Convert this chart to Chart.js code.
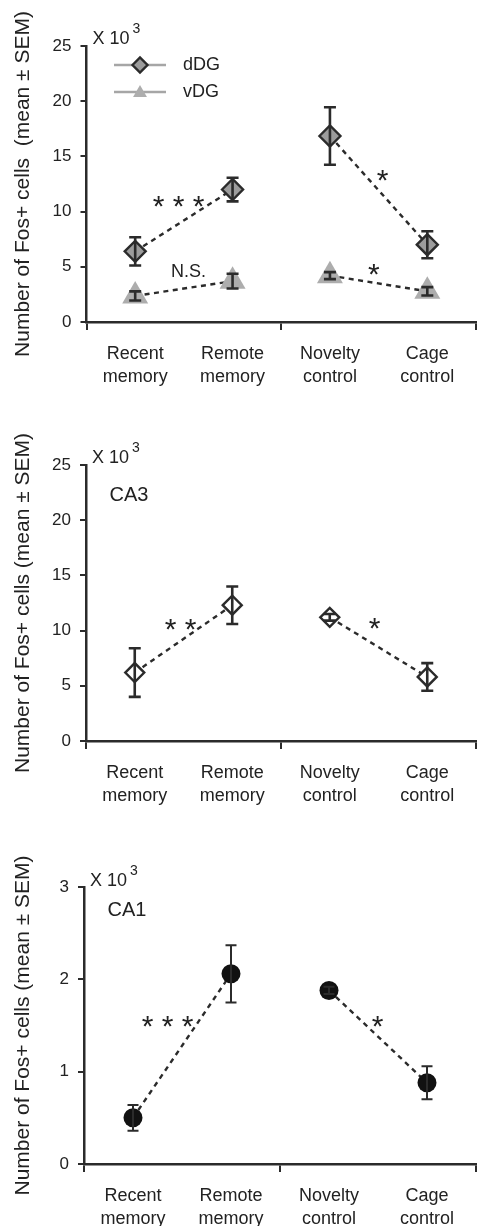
<!DOCTYPE html>
<html><head><meta charset="utf-8">
<script src="https://cdn.jsdelivr.net/npm/chart.js@4.4.1/dist/chart.umd.min.js"></script>
<style>
html,body{margin:0;padding:0;background:#fff;}
body{width:477px;height:1226px;position:relative;overflow:hidden;}
.p{position:absolute;left:0;width:477px;}
</style></head><body>
<div class="p" style="top:0;height:409px"><canvas id="c1"></canvas></div>
<div class="p" style="top:409px;height:409px"><canvas id="c2"></canvas></div>
<div class="p" style="top:818px;height:408px"><canvas id="c3"></canvas></div>
<script>
// ---- data ----
const categories = [['Recent','memory'],['Remote','memory'],['Novelty','control'],['Cage','control']];
const dgTicks = [0,5,10,15,20,25];
const ca3Ticks = [0,5,10,15,20,25];
const ca1Ticks = [0,1,2,3];
const dDGMean = [6.4, 12.0, 16.85, 7.0];
const dDGSem  = [1.28, 1.07, 2.6, 1.22];
const vDGMean = [2.36, 3.7, 4.2, 2.78];
const vDGSem  = [0.41, 0.67, 0.32, 0.38];
const ca3Mean = [6.2, 12.3, 11.2, 5.8];
const ca3Sem  = [2.2, 1.7, 0.3, 1.25];
const ca1Mean = [0.5, 2.06, 1.88, 0.88];
const ca1Sem  = [0.14, 0.31, 0.04, 0.18];

const FONT = "'Liberation Sans', Arial, Helvetica, sans-serif";
const DARK = '#2b2b2b';
Chart.defaults.font.family = FONT;

function drawMarker(ctx, style, x, y, r, fill, stroke, bw) {
  ctx.save();
  ctx.beginPath();
  if (style === 'rectRot') {
    ctx.moveTo(x - r, y); ctx.lineTo(x, y - r); ctx.lineTo(x + r, y); ctx.lineTo(x, y + r); ctx.closePath();
  } else if (style === 'triangle') {
    ctx.moveTo(x, y - r);
    ctx.lineTo(x + Math.sin(2*Math.PI/3) * r, y + r/2);
    ctx.lineTo(x - Math.sin(2*Math.PI/3) * r, y + r/2);
    ctx.closePath();
  } else {
    ctx.arc(x, y, r, 0, Math.PI * 2);
  }
  ctx.fillStyle = fill; ctx.fill();
  if (bw > 0) { ctx.lineWidth = bw; ctx.strokeStyle = stroke; ctx.stroke(); }
  ctx.restore();
}

const errorBars = {
  id: 'errorBars',
  afterDatasetsDraw(chart, args, opts) {
    const ctx = chart.ctx, ys = chart.scales.y;
    chart.data.datasets.forEach((ds, di) => {
      if (!ds.sem) return;
      const meta = chart.getDatasetMeta(di);
      ctx.save();
      ctx.strokeStyle = DARK; ctx.lineWidth = opts.width;
      meta.data.forEach((pt, i) => {
        const v = ds.data[i], s = ds.sem[i];
        const x = pt.x, yt = ys.getPixelForValue(v + s), yb = ys.getPixelForValue(v - s);
        ctx.beginPath();
        ctx.moveTo(x, yt); ctx.lineTo(x, yb);
        ctx.moveTo(x - opts.cap, yt); ctx.lineTo(x + opts.cap, yt);
        ctx.moveTo(x - opts.cap, yb); ctx.lineTo(x + opts.cap, yb);
        ctx.stroke();
      });
      ctx.restore();
    });
  }
};

const deco = {
  id: 'deco',
  afterDraw(chart, args, opts) {
    const ctx = chart.ctx, ca = chart.chartArea, xs = chart.scales.x, ys = chart.scales.y;
    ctx.save();
    ctx.fillStyle = '#222';
    // unit label X 10^3
    ctx.textAlign = 'left'; ctx.textBaseline = 'middle';
    ctx.font = '18px ' + FONT;
    ctx.fillText('X 10', ca.left + 6, ca.top + opts.unitDy);
    const w = ctx.measureText('X 10').width;
    ctx.font = '14px ' + FONT;
    ctx.fillText('3', ca.left + 6 + w + 3, ca.top + opts.unitDy - 10);
    // panel label
    if (opts.panel) {
      ctx.font = '20px ' + FONT;
      ctx.fillText(opts.panel, ca.left + 23.5, ca.top + opts.panelDy);
    }
    // significance notes
    ctx.textAlign = 'center'; ctx.textBaseline = 'alphabetic';
    (opts.notes || []).forEach(n => {
      const px = xs.getPixelForValue(n.at);
      const py = ys.getPixelForValue(n.y);
      ctx.font = n.size + 'px ' + FONT;
      ctx.fillText(n.text, px, py + n.raise * n.size);
    });
    // legend
    if (opts.legend) {
      const L = opts.legend;
      chart.data.datasets.forEach((ds, i) => {
        const cy = ca.top + L.top + i * L.gap;
        const x0 = ca.left + L.left;
        ctx.save();
        ctx.strokeStyle = '#a6a6a6'; ctx.lineWidth = 2.5;
        ctx.beginPath(); ctx.moveTo(x0, cy); ctx.lineTo(x0 + L.len, cy); ctx.stroke();
        ctx.restore();
        drawMarker(ctx, ds.pointStyle, x0 + L.len / 2, cy + (ds.pointStyle === 'triangle' ? 1 : 0), ds.legendRadius, ds.pointBackgroundColor, ds.pointBorderColor, ds.pointBorderWidth);
        ctx.fillStyle = '#222';
        ctx.font = '18px ' + FONT; ctx.textAlign = 'left'; ctx.textBaseline = 'middle';
        ctx.fillText(ds.label, x0 + L.len + 17, cy);
      });
    }
    ctx.restore();
  }
};

function lineDs(label, data, sem, style, radius, fill, border, bw, legendRadius) {
  return {
    label, data, sem,
    borderColor: DARK, borderWidth: 2.4, borderDash: [5, 4.5],
    segment: { borderColor: c => c.p0DataIndex === 1 ? 'rgba(0,0,0,0)' : DARK },
    pointStyle: style, pointRadius: radius, pointHoverRadius: radius,
    pointBackgroundColor: fill, pointBorderColor: border, pointBorderWidth: bw,
    legendRadius, fill: false, tension: 0, clip: false
  };
}

function makeChart(id, cfg) {
  return new Chart(document.getElementById(id), {
    type: 'line',
    data: { labels: categories, datasets: cfg.datasets },
    options: {
      responsive: true, maintainAspectRatio: false, animation: false,
      events: [],
      layout: { autoPadding: false, padding: { top: cfg.top, left: 0, right: 1, bottom: 0 } },
      plugins: {
        legend: { display: false }, tooltip: { enabled: false },
        errorBars: { width: cfg.ebw, cap: cfg.cap },
        deco: cfg.deco
      },
      scales: {
        x: {
          type: 'category', offset: true,
          grid: { offset: true, drawOnChartArea: false, drawTicks: true, tickLength: 8, color: DARK,
                  lineWidth: c => (c.index === undefined || c.index % 2 === 0) ? 2 : 0 },
          border: { display: true, color: DARK, width: 2.5 },
          ticks: { color: '#222', font: { size: 18, lineHeight: 1.255 }, padding: 13, maxRotation: 0, autoSkip: false },
          afterFit: s => { s.height = cfg.xh; s.paddingLeft = 0; s.paddingRight = 0; }
        },
        y: {
          min: 0, max: cfg.yticks[cfg.yticks.length - 1],
          afterBuildTicks: s => { s.ticks = cfg.yticks.map(v => ({ value: v })); },
          grid: { drawOnChartArea: false, drawTicks: true, tickLength: 6, color: DARK, lineWidth: 2 },
          border: { display: true, color: DARK, width: 2.5 },
          ticks: { color: '#222', font: { size: 17 }, padding: 9 },
          title: { display: true, text: cfg.title, color: '#222', font: { size: 21 }, padding: { top: 11, bottom: 0 } },
          afterFit: s => { s.width = cfg.yw; }
        }
      }
    },
    plugins: [errorBars, deco]
  });
}

makeChart('c1', {
  top: 46, xh: 87, yw: 86.5, yticks: dgTicks, ebw: 2.6, cap: 6,
  title: 'Number of Fos+ cells  (mean \u00b1 SEM)',
  datasets: [
    lineDs('dDG', dDGMean, dDGSem, 'rectRot', 10.5, '#9c9c9c', DARK, 2.4, 7.5),
    lineDs('vDG', vDGMean, vDGSem, 'triangle', 15, '#adadad', '#adadad', 0, 8)
  ],
  deco: {
    unitDy: -7,
    legend: { top: 19, gap: 27, left: 27.5, len: 52 },
    notes: [
      { text: '* * *', at: 0.445, y: 11.15, size: 30, raise: 0.58 },
      { text: 'N.S.', at: 0.547, y: 4.67, size: 18, raise: 0.36 },
      { text: '*', at: 2.54, y: 13.5, size: 30, raise: 0.58 },
      { text: '*', at: 2.45, y: 5.0, size: 30, raise: 0.58 }
    ]
  }
});

makeChart('c2', {
  top: 56, xh: 77, yw: 86, yticks: ca3Ticks, ebw: 2.6, cap: 6,
  title: 'Number of Fos+ cells (mean \u00b1 SEM)',
  datasets: [
    lineDs('CA3', ca3Mean, ca3Sem, 'rectRot', 9.5, '#ffffff', DARK, 2.4, 7.5)
  ],
  deco: {
    unitDy: -7, panel: 'CA3', panelDy: 30,
    notes: [
      { text: '* *', at: 0.469, y: 10.85, size: 30, raise: 0.58 },
      { text: '*', at: 2.46, y: 10.9, size: 30, raise: 0.58 }
    ]
  }
});

makeChart('c3', {
  top: 69, xh: 62, yw: 84, yticks: ca1Ticks, ebw: 2, cap: 5.5,
  title: 'Number of Fos+ cells (mean \u00b1 SEM)',
  datasets: [
    lineDs('CA1', ca1Mean, ca1Sem, 'circle', 9.5, '#111111', '#111111', 0, 7)
  ],
  deco: {
    unitDy: -5.5, panel: 'CA1', panelDy: 23.5,
    notes: [
      { text: '* * *', at: 0.352, y: 1.57, size: 30, raise: 0.58 },
      { text: '*', at: 2.497, y: 1.57, size: 30, raise: 0.58 }
    ]
  }
});
</script>
</body></html>
